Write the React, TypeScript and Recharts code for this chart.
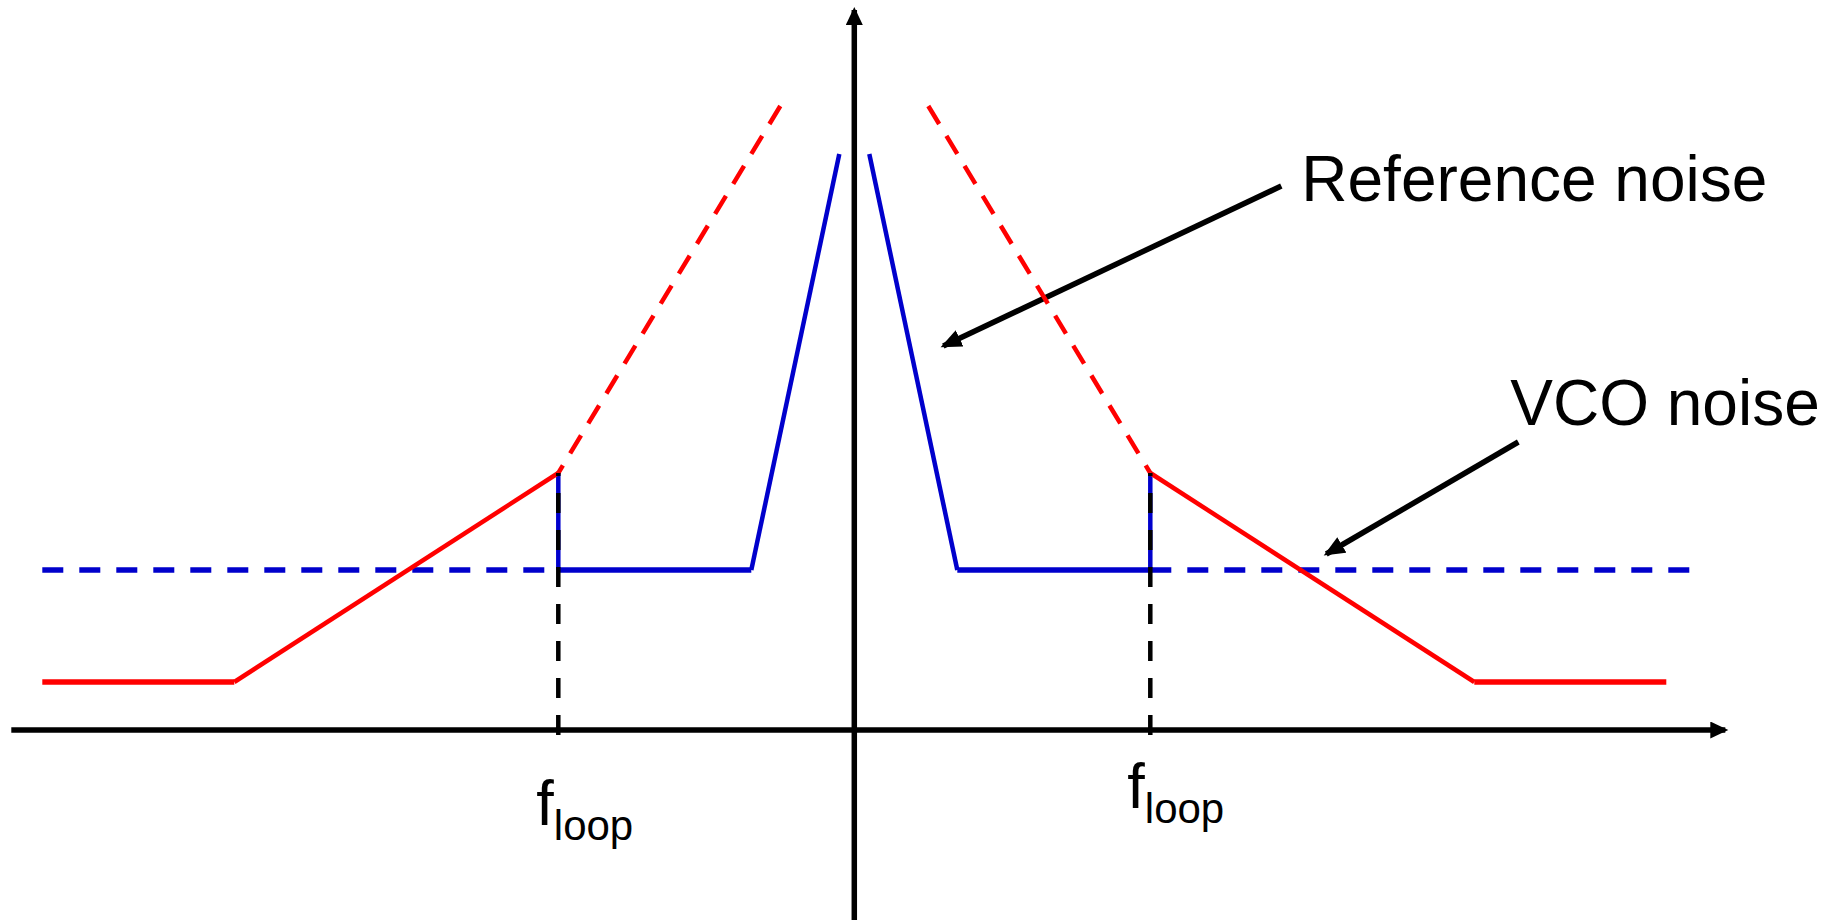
import { LineChart, Line, XAxis, YAxis, ReferenceDot } from "recharts";

// frequency offset (x) and noise level (y), arbitrary units, carrier at x = 0
const refFloorLeft = [
  { x: -81.2, y: 4.8 },
  { x: -62.0, y: 4.8 },
];
const refRiseLeft = [
  { x: -62.0, y: 4.8 },
  { x: -29.6, y: 25.7 },
];
const refOpenLeft = [
  { x: -7.4, y: 62.4 },
  { x: -29.6, y: 25.7 },
];
const refOpenRight = [
  { x: 7.4, y: 62.4 },
  { x: 29.6, y: 25.7 },
];
const refFallRight = [
  { x: 29.6, y: 25.7 },
  { x: 62.0, y: 4.8 },
];
const refFloorRight = [
  { x: 62.0, y: 4.8 },
  { x: 81.2, y: 4.8 },
];

const vcoOpenLeft = [
  { x: -81.2, y: 16 },
  { x: -29.6, y: 16 },
];
const vcoOpenRight = [
  { x: 29.6, y: 16 },
  { x: 84.2, y: 16 },
];
const vcoFlatLeft = [
  { x: -29.6, y: 16 },
  { x: -10.3, y: 16 },
];
const vcoPeakLeft = [
  { x: -10.3, y: 16 },
  { x: -1.5, y: 57.6 },
];
const vcoPeakRight = [
  { x: 1.5, y: 57.6 },
  { x: 10.3, y: 16 },
];
const vcoFlatRight = [
  { x: 10.3, y: 16 },
  { x: 29.6, y: 16 },
];
const vcoStepLeft = [
  { x: -29.6, y: 16 },
  { x: -29.6, y: 25.7 },
];
const vcoStepRight = [
  { x: 29.6, y: 16 },
  { x: 29.6, y: 25.7 },
];

const loopMarkLeft = [
  { x: -29.6, y: -0.5 },
  { x: -29.6, y: 25.7 },
];
const loopMarkRight = [
  { x: 29.6, y: -0.5 },
  { x: 29.6, y: 25.7 },
];

const freqAxis = [
  { x: -84.3, y: 0 },
  { x: 87.1, y: 0 },
];
const levelAxis = [
  { x: 0, y: -19.5 },
  { x: 0, y: 72 },
];

const refPointer = [
  { x: 42.7, y: 54.4 },
  { x: 8.9, y: 38.4 },
];
const vcoPointer = [
  { x: 66.4, y: 28.8 },
  { x: 47.2, y: 17.6 },
];

const RED = "#ff0000";
const BLUE = "#0000cc";
const FONT = "'Liberation Sans', Arial, Helvetica, sans-serif";

const seg = (data: { x: number; y: number }[], stroke: string, width: number, dash?: string, marker?: string) => (
  <Line
    data={data}
    dataKey="y"
    type="linear"
    stroke={stroke}
    strokeWidth={width}
    strokeDasharray={dash}
    markerEnd={marker}
    dot={false}
    activeDot={false}
    isAnimationActive={false}
    legendType="none"
  />
);

const textLabel = (text: string) => (props: any) => {
  const { x, y } = props.viewBox;
  return (
    <text x={x} y={y} fontFamily={FONT} fontSize={64} fill="#000">
      {text}
    </text>
  );
};

const floopLabel = (props: any) => {
  const { x, y } = props.viewBox;
  return (
    <text x={x} y={y} fontFamily={FONT} fontSize={63} fill="#000">
      f
      <tspan dy={15} fontSize={42}>
        loop
      </tspan>
    </text>
  );
};

export default function App() {
  return (
    <div style={{ position: "absolute", left: 0, top: 0, background: "#fff" }}>
      <LineChart width={1839} height={920} margin={{ top: 0, right: 0, bottom: 0, left: 0 }}>
        <defs>
          <marker id="axisHead" markerUnits="userSpaceOnUse" markerWidth={22} markerHeight={20} refX={15} refY={8.5} orient="auto">
            <path d="M0,0 L18,8.5 L0,17 Z" fill="#000" />
          </marker>
          <marker id="noteHead" markerUnits="userSpaceOnUse" markerWidth={26} markerHeight={22} refX={18} refY={9} orient="auto">
            <path d="M0,0 L21,9 L0,18 Z" fill="#000" />
          </marker>
        </defs>
        <XAxis type="number" dataKey="x" domain={[-85.43, 98.47]} hide allowDataOverflow />
        <YAxis type="number" domain={[-19, 73]} hide allowDataOverflow />

        {seg(refPointer, "#000", 5.5, undefined, "url(#noteHead)")}
        {seg(vcoPointer, "#000", 5.5, undefined, "url(#noteHead)")}

        {seg(vcoOpenLeft, BLUE, 5.5, "21 16")}
        {seg(vcoOpenRight, BLUE, 5.5, "21 16")}
        {seg(vcoFlatLeft, BLUE, 5.5)}
        {seg(vcoFlatRight, BLUE, 5.5)}
        {seg(vcoPeakLeft, BLUE, 4.5)}
        {seg(vcoPeakRight, BLUE, 4.5)}
        {seg(vcoStepLeft, BLUE, 4.5)}
        {seg(vcoStepRight, BLUE, 4.5)}

        {seg(refFloorLeft, RED, 5.5)}
        {seg(refFloorRight, RED, 5.5)}
        {seg(refRiseLeft, RED, 4.5)}
        {seg(refFallRight, RED, 4.5)}
        {seg(refOpenLeft, RED, 4.5, "21 14")}
        {seg(refOpenRight, RED, 4.5, "21 14")}

        {seg(loopMarkLeft, "#000", 4.5, "20 17")}
        {seg(loopMarkRight, "#000", 4.5, "20 17")}

        {seg(freqAxis, "#000", 5.5, undefined, "url(#axisHead)")}
        {seg(levelAxis, "#000", 5.5, undefined, "url(#axisHead)")}

        <ReferenceDot x={44.7} y={52.9} r={0} fill="none" stroke="none" label={textLabel("Reference noise")} />
        <ReferenceDot x={65.6} y={30.5} r={0} fill="none" stroke="none" label={textLabel("VCO noise")} />
        <ReferenceDot x={-31.8} y={-9.5} r={0} fill="none" stroke="none" label={floopLabel} />
        <ReferenceDot x={27.3} y={-7.8} r={0} fill="none" stroke="none" label={floopLabel} />
      </LineChart>
    </div>
  );
}
